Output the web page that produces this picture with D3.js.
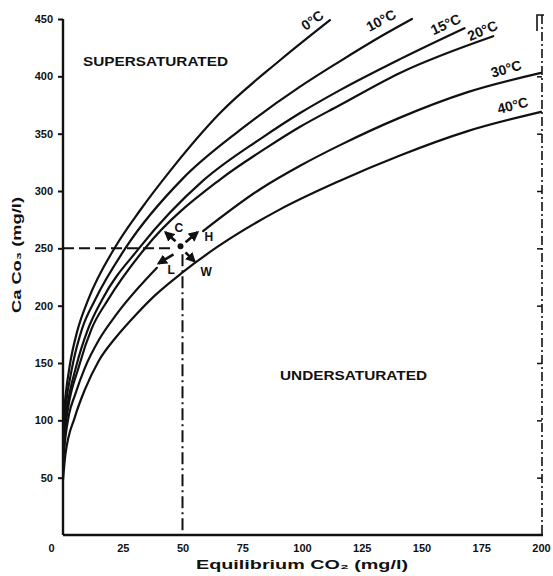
<!DOCTYPE html>
<html><head><meta charset="utf-8">
<script src="https://cdn.jsdelivr.net/npm/d3@7"></script>
<style>
html,body{margin:0;padding:0;background:#fff;}
svg text{font-family:"Liberation Sans",Arial,sans-serif;font-weight:bold;fill:#111;}
</style></head>
<body><svg id="c" width="553" height="576"></svg>
<script>
// ---- data ----
const temps = ["0°C","10°C","15°C","20°C","30°C","40°C"];
const co2_0  = [0, 1, 3, 6, 10.5, 21.8, 32.2, 45, 65.7, 90.8, 111.7];
const ca_0   = [95, 120, 150, 178, 205, 251, 283, 318, 368, 414, 449];
const co2_10 = [0, 1, 4.2, 8, 13.4, 26.4, 50.2, 74, 99.2, 115, 134, 146];
const ca_10  = [88, 110, 150, 180, 205, 251, 311, 353, 391, 412, 436, 450];
const co2_15 = [0, 1, 5.9, 10, 16.3, 32.2, 58.6, 83.7, 99.2, 115.9, 141, 168];
const ca_15  = [80, 100, 150, 177, 205, 251, 309, 347, 368, 388, 415, 442];
const co2_20 = [0, 1, 7.1, 12, 18.8, 34.7, 65.7, 85.4, 99.2, 115.9, 141, 180];
const ca_20  = [75, 94, 150, 180, 205, 251, 310, 338, 356, 375, 403, 435];
const co2_30 = [0, 1, 2.5, 5, 9.2, 15, 22.6, 39.3, 50, 58.6, 82.8, 99.2, 115.9, 141, 169, 200];
const ca_30  = [62, 85, 105, 122, 146, 170, 193, 233, 251, 265, 302, 322, 340, 364, 386, 403];
const co2_40 = [0, 1, 5, 9.2, 15, 22, 30.9, 38.5, 50, 64.4, 90.8, 115.9, 141, 169, 200];
const ca_40  = [48, 70, 103, 127, 152, 172, 193, 209, 229, 251, 284, 309, 331, 352, 369];
const xTicks = [0, 25, 50, 75, 100, 125, 150, 175, 200];
const yTicks = [50, 100, 150, 200, 250, 300, 350, 400, 450];
const rightTicks = [50, 100, 150, 200, 250, 300, 350, 400];
const refCO2 = 50, refCa = 250;
const gap30 = [45, 55];   // 30°C curve is broken around the marked point

const seriesX = [co2_0, co2_10, co2_15, co2_20, co2_30, co2_40];
const seriesY = [ca_0, ca_10, ca_15, ca_20, ca_30, ca_40];

// ---- layout ----
const svg = d3.select("#c");
const x = d3.scaleLinear().domain([0, 200]).range([63, 541]);
const y = d3.scaleLinear().domain([0, 450]).range([535, 19]);
const ink = "#111";

// reference dashed lines
svg.append("line").attr("x1", x(0)).attr("x2", x(refCO2) - 8).attr("y1", y(refCa)).attr("y2", y(refCa))
  .attr("stroke", ink).attr("stroke-width", 2).attr("stroke-dasharray", "11,5");
svg.append("line").attr("x1", x(refCO2)).attr("x2", x(refCO2)).attr("y1", y(refCa) + 6).attr("y2", y(0))
  .attr("stroke", ink).attr("stroke-width", 2).attr("stroke-dasharray", "12,4,2,4");

// right dash-dot boundary with inward ticks
svg.append("line").attr("x1", x(200) + 1).attr("x2", x(200) + 1).attr("y1", y(450) - 4).attr("y2", y(0))
  .attr("stroke", ink).attr("stroke-width", 1.6).attr("stroke-dasharray", "9,3,2,3");
const rAx = svg.append("g").attr("transform", `translate(${x(200) + 1},0)`)
  .call(d3.axisLeft(y).tickValues(rightTicks).tickSize(5).tickFormat(""));
rAx.select(".domain").remove();
rAx.selectAll("line").attr("stroke", ink).attr("stroke-width", 1.5);
svg.append("path")
  .attr("d", `M${x(200) + 3},${y(450) - 4} H${x(200) - 4} V${y(450) + 12}`)
  .attr("fill", "none").attr("stroke", ink).attr("stroke-width", 1.6);

// curves
const line = d3.line().x(d => x(d[0])).y(d => y(d[1])).curve(d3.curveMonotoneX);
temps.forEach((t, i) => {
  const pts = seriesX[i].map((v, j) => [v, seriesY[i][j]]);
  const ln = line.defined(d => !(t === "30°C" && d[0] > gap30[0] && d[0] < gap30[1]));
  svg.append("path").attr("d", ln(pts)).attr("fill", "none")
    .attr("stroke", ink).attr("stroke-width", 2.2).attr("stroke-linecap", "round");
});

// curve labels (rotated along the curve ends)
const labPos = [
  {co2: 105.5, ca: 445.5, a: -35},
  {co2: 134, ca: 445, a: -28},
  {co2: 161, ca: 441.5, a: -25},
  {co2: 176.3, ca: 436, a: -23},
  {co2: 186, ca: 402.5, a: -16},
  {co2: 188.7, ca: 370.5, a: -14}
];
temps.forEach((t, i) => {
  const p = labPos[i];
  svg.append("text").attr("transform", `translate(${x(p.co2)},${y(p.ca)}) rotate(${p.a})`)
    .attr("text-anchor", "middle").attr("font-size", 14).text(t);
});

// axes
const yAx = svg.append("g").attr("transform", `translate(${x(0)},0)`)
  .call(d3.axisLeft(y).tickValues(yTicks).tickSize(5).tickPadding(5));
yAx.select(".domain").attr("d", `M0,${y(450)}V${y(0)}`).attr("stroke", ink).attr("stroke-width", 2.4);
yAx.selectAll("line").attr("stroke", ink).attr("stroke-width", 2);
yAx.selectAll("text").attr("font-family", "DejaVu Sans").attr("font-size", 11).attr("font-weight", "bold").attr("fill", ink);

const xAx = svg.append("g").attr("transform", `translate(0,${y(0)})`)
  .call(d3.axisBottom(x).tickValues(xTicks).tickSize(0).tickPadding(9));
xAx.select(".domain").attr("d", `M${x(0)},0H${x(200) + 2}`).attr("stroke", ink).attr("stroke-width", 2.6);
xAx.selectAll("text").attr("font-size", 11).attr("fill", ink)
  .attr("dx", d => d === 0 ? -12 : 0);

// axis titles
svg.append("text").attr("x", 302).attr("y", 569).attr("text-anchor", "middle").attr("font-size", 12)
  .attr("textLength", 212).attr("lengthAdjust", "spacingAndGlyphs").text("Equilibrium CO₂ (mg/l)");
svg.append("text").attr("transform", "translate(21,255) rotate(-90)").attr("text-anchor", "middle")
  .attr("font-size", 12).attr("textLength", 116).attr("lengthAdjust", "spacingAndGlyphs").text("Ca Co₃ (mg/l)");

// region labels
svg.append("text").attr("x", 83).attr("y", 66).attr("font-size", 13)
  .attr("textLength", 145).attr("lengthAdjust", "spacingAndGlyphs").text("SUPERSATURATED");
svg.append("text").attr("x", 280).attr("y", 380).attr("font-size", 13)
  .attr("textLength", 147).attr("lengthAdjust", "spacingAndGlyphs").text("UNDERSATURATED");

// marked point with C / H / L / W arrows
svg.append("defs").append("marker").attr("id", "ah").attr("viewBox", "0 0 10 10")
  .attr("refX", 8).attr("refY", 5).attr("markerWidth", 4).attr("markerHeight", 4).attr("orient", "auto")
  .append("path").attr("d", "M0,0 L10,5 L0,10 z").attr("fill", ink);
const px = x(refCO2) - 2, py = y(refCa) - 2;
svg.append("circle").attr("cx", px).attr("cy", py).attr("r", 3).attr("fill", ink);
const arrows = [
  {dx: -5, dy: -5, ex: -15, ey: -14, lab: "C", lx: -6, ly: -14},
  {dx: 5, dy: -4, ex: 17, ey: -14, lab: "H", lx: 24, ly: -5},
  {dx: -7, dy: 8, ex: -22, ey: 17, lab: "L", lx: -13, ly: 28},
  {dx: 5, dy: 6, ex: 14, ey: 15, lab: "W", lx: 20, ly: 30}
];
arrows.forEach(a => {
  svg.append("line").attr("x1", px + a.dx).attr("y1", py + a.dy).attr("x2", px + a.ex).attr("y2", py + a.ey)
    .attr("stroke", ink).attr("stroke-width", 2.6).attr("marker-end", "url(#ah)");
  svg.append("text").attr("x", px + a.lx).attr("y", py + a.ly).attr("font-size", 12).text(a.lab);
});
</script></body></html>
